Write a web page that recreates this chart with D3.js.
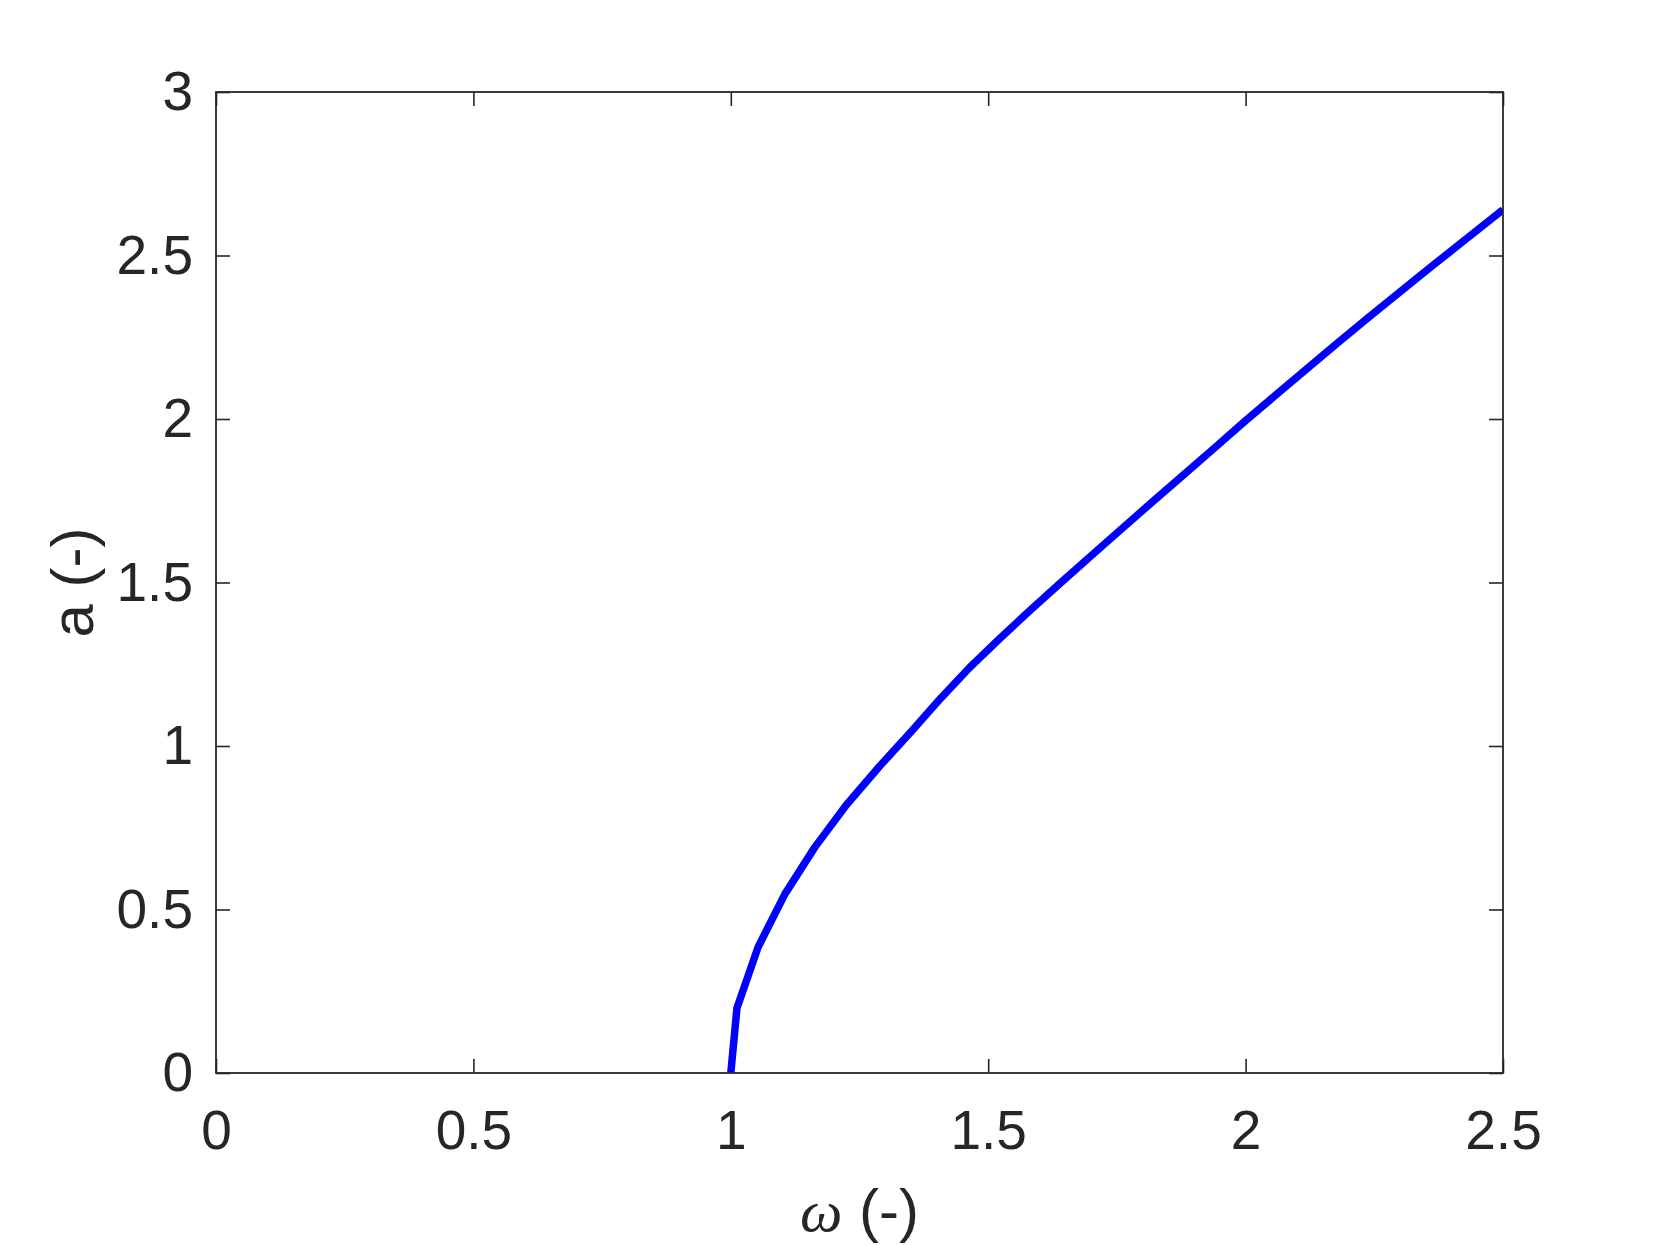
<!DOCTYPE html>
<html>
<head>
<meta charset="utf-8">
<script src="https://cdn.jsdelivr.net/npm/d3@7"></script>
<style>
  body { margin: 0; background: #fff; }
  .tick text { font-family: "Liberation Sans", Arial, sans-serif; font-size: 55px; fill: #262626; }
  .tick line { stroke: #262626; stroke-width: 1.6; }
</style>
</head>
<body>
<svg id="chart" width="1661" height="1246"></svg>
<script>
// backbone curve
var omega = [1.0, 1.012, 1.053, 1.105, 1.163, 1.224, 1.289, 1.351, 1.409, 1.464,
             1.52, 1.58, 1.64, 1.70, 1.76, 1.82, 1.88, 1.94, 2.00,
             2.06, 2.12, 2.18, 2.24, 2.30, 2.36, 2.42, 2.50];
var amp = [0, 0.199, 0.385, 0.547, 0.690, 0.819, 0.938, 1.045, 1.148, 1.240,
           1.325, 1.413, 1.498, 1.582, 1.665, 1.748, 1.830, 1.912, 1.995,
           2.075, 2.155, 2.234, 2.312, 2.389, 2.465, 2.540, 2.640];
var xTicks = [0, 0.5, 1, 1.5, 2, 2.5];
var yTicks = [0, 0.5, 1, 1.5, 2, 2.5, 3];

var svg = d3.select("#chart"),
    margin = {top: 92, right: 158, bottom: 173, left: 216},
    width = +svg.attr("width") - margin.left - margin.right,
    height = +svg.attr("height") - margin.top - margin.bottom;

svg.append("rect").attr("width", 1661).attr("height", 1246).attr("fill", "#fff");

var g = svg.append("g")
    .attr("transform", "translate(" + margin.left + "," + margin.top + ")");

var x = d3.scaleLinear().domain([0, 2.5]).range([0, width]);
var y = d3.scaleLinear().domain([0, 3]).range([height, 0]);

var data = omega.map(function(w, i) { return {w: w, a: amp[i]}; });

svg.append("defs").append("clipPath")
    .attr("id", "clip")
    .append("rect")
    .attr("width", width)
    .attr("height", height);

// axes, MATLAB style: ticks inward on all four sides
g.append("g")
    .attr("class", "axis axis--x")
    .attr("transform", "translate(0," + height + ")")
    .call(d3.axisBottom(x).tickValues(xTicks).tickSize(-14).tickSizeOuter(0).tickPadding(37)
        .tickFormat(d3.format("")));

g.append("g")
    .attr("class", "axis axis--y")
    .call(d3.axisLeft(y).tickValues(yTicks).tickSize(-14).tickSizeOuter(0).tickPadding(23)
        .tickFormat(d3.format("")));

g.append("g")
    .attr("class", "axis")
    .call(d3.axisTop(x).tickValues(xTicks).tickSize(-14).tickSizeOuter(0).tickFormat(""));

g.append("g")
    .attr("class", "axis")
    .attr("transform", "translate(" + width + ",0)")
    .call(d3.axisRight(y).tickValues(yTicks).tickSize(-14).tickSizeOuter(0).tickFormat(""));

g.selectAll(".axis .domain").remove();

g.append("path")
    .datum(data)
    .attr("clip-path", "url(#clip)")
    .attr("fill", "none")
    .attr("stroke", "#0000ff")
    .attr("stroke-width", 7.5)
    .attr("stroke-linejoin", "round")
    .attr("d", d3.line()
        .x(function(d) { return x(d.w); })
        .y(function(d) { return y(d.a); }));

g.append("rect")
    .attr("width", width)
    .attr("height", height)
    .attr("fill", "none")
    .attr("stroke", "#262626")
    .attr("stroke-width", 1.8);

// axis labels
var xl = svg.append("text")
    .attr("x", margin.left + width / 2)
    .attr("y", 1231)
    .attr("text-anchor", "middle")
    .style("font-family", "'Liberation Sans', Arial, sans-serif")
    .style("font-size", "60px")
    .style("fill", "#262626");
xl.append("tspan")
    .style("font-family", "'Liberation Serif', 'DejaVu Serif', serif")
    .style("font-style", "italic")
    .text("ω");
xl.append("tspan").text(" (-)");

svg.append("text")
    .attr("transform", "translate(93," + (margin.top + height / 2) + ") rotate(-90)")
    .attr("text-anchor", "middle")
    .style("font-family", "'Liberation Sans', Arial, sans-serif")
    .style("font-size", "60px")
    .style("fill", "#262626")
    .text("a (-)");
</script>
</body>
</html>
